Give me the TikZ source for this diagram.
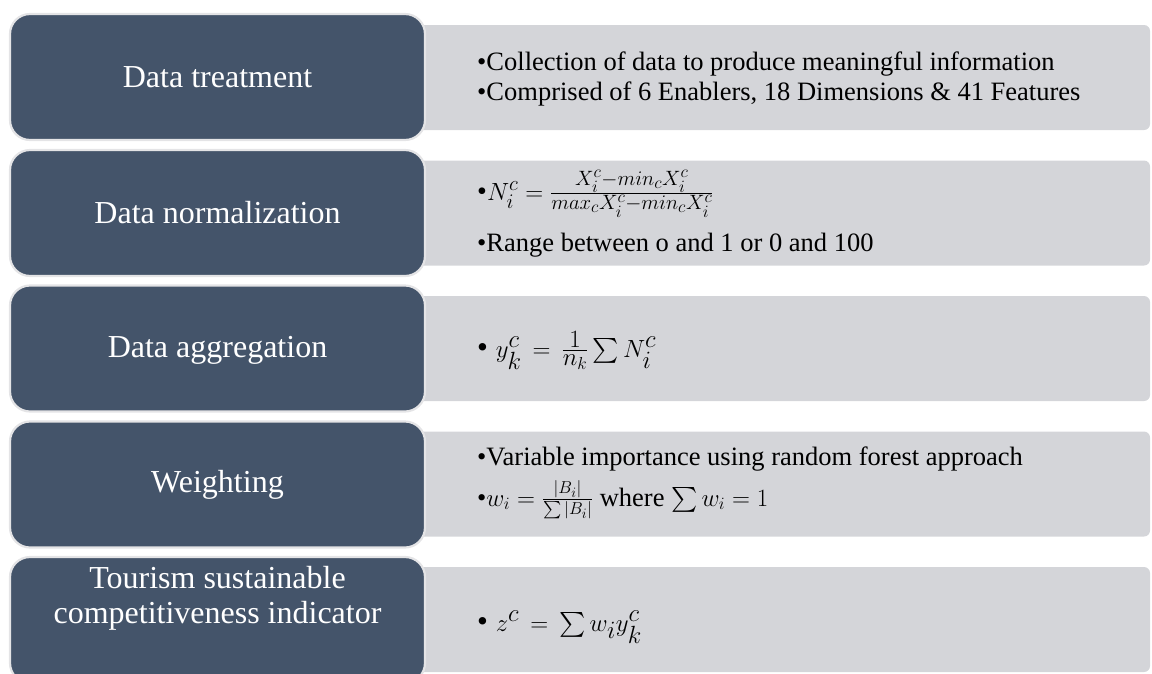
\documentclass[tikz,border=0pt]{standalone}
\usepackage{amsmath}
\usepackage{fontspec}
\setmainfont{Liberation Serif}
\DeclareMathSizes{28}{28}{21}{16}
\DeclareMathSizes{31}{31}{23}{17}
\definecolor{darkc}{HTML}{44546A}
\definecolor{grayc}{HTML}{D4D5D9}
\definecolor{borderc}{HTML}{E4E4E6}
\tikzset{
  stagebox/.style={draw=borderc, line width=2.2pt, fill=darkc, rounded corners=20pt,
    minimum width=415pt, minimum height=126pt, inner sep=0pt},
  stagelabel/.style={text=white, align=center, inner sep=0pt,
    font=\fontsize{32}{35}\selectfont},
  detailbox/.style={fill=grayc, rounded corners=6pt, minimum width=735pt,
    minimum height=105pt, inner sep=0pt},
  txt/.style={anchor=base west, inner sep=0pt, font=\fontsize{26.5}{30}\selectfont},
  mathtxt/.style={txt, font=\fontsize{28}{32}\selectfont},
  bigtxt/.style={txt, font=\fontsize{31}{34}\selectfont}
}
\begin{document}
\begin{tikzpicture}[x=1pt,y=-1pt]
\useasboundingbox (0,0) rectangle (1152,673);
\begin{scope}
\clip (0,0) rectangle (1152,673);
% detail boxes
\node[detailbox] (g1) at (782.5,77.5) {};
\node[detailbox] (g2) at (782.5,213) {};
\node[detailbox] (g3) at (782.5,348.5) {};
\node[detailbox] (g4) at (782.5,484) {};
\node[detailbox] (g5) at (782.5,619.5) {};
% stage boxes
\node[stagebox] (d1) at (217.5,77) {};
\node[stagebox] (d2) at (217.5,213) {};
\node[stagebox] (d3) at (217.5,348.5) {};
\node[stagebox] (d4) at (217.5,484.5) {};
\node[stagebox] (d5) at (217.5,620) {};
\end{scope}
% stage labels
\node[stagelabel] (l1) at (217.5,77) {Data treatment};
\node[stagelabel] (l2) at (217.5,213) {Data normalization};
\node[stagelabel] (l3) at (217.5,350) {Data aggregation};
\node[stagelabel] (l4) at (217.5,484.5) {Weighting};
\node[stagelabel] (l5) at (217.5,598) {Tourism sustainable\\competitiveness indicator};
% details
\node[txt] (t1a) at (477,70) {•Collection of data to produce meaningful information};
\node[txt] (t1b) at (477,100) {•Comprised of 6 Enablers, 18 Dimensions \& 41 Features};
\node[mathtxt] (t2a) at (477,200) {•$N_i^c = \frac{X_i^c - min_c X_i^c}{max_c X_i^c - min_c X_i^c}$};
\node[txt] (t2b) at (477,251) {•Range between o and 1 or 0 and 100};
\node[bigtxt] (t3) at (477,357) {• $\thickmuskip=8mu y_k^c = \frac{1}{n_k}\sum N_i^c$};
\node[txt] (t4a) at (477,465) {•Variable importance using random forest approach};
\node[txt] (t4b) at (477,506) {•$w_i = \frac{|B_i|}{\sum|B_i|}$ where $\sum w_i = 1$};
\node[bigtxt] (t5) at (477,631) {• $\thickmuskip=8mu z^c = \sum w_i y_k^c$};
\end{tikzpicture}
\end{document}
